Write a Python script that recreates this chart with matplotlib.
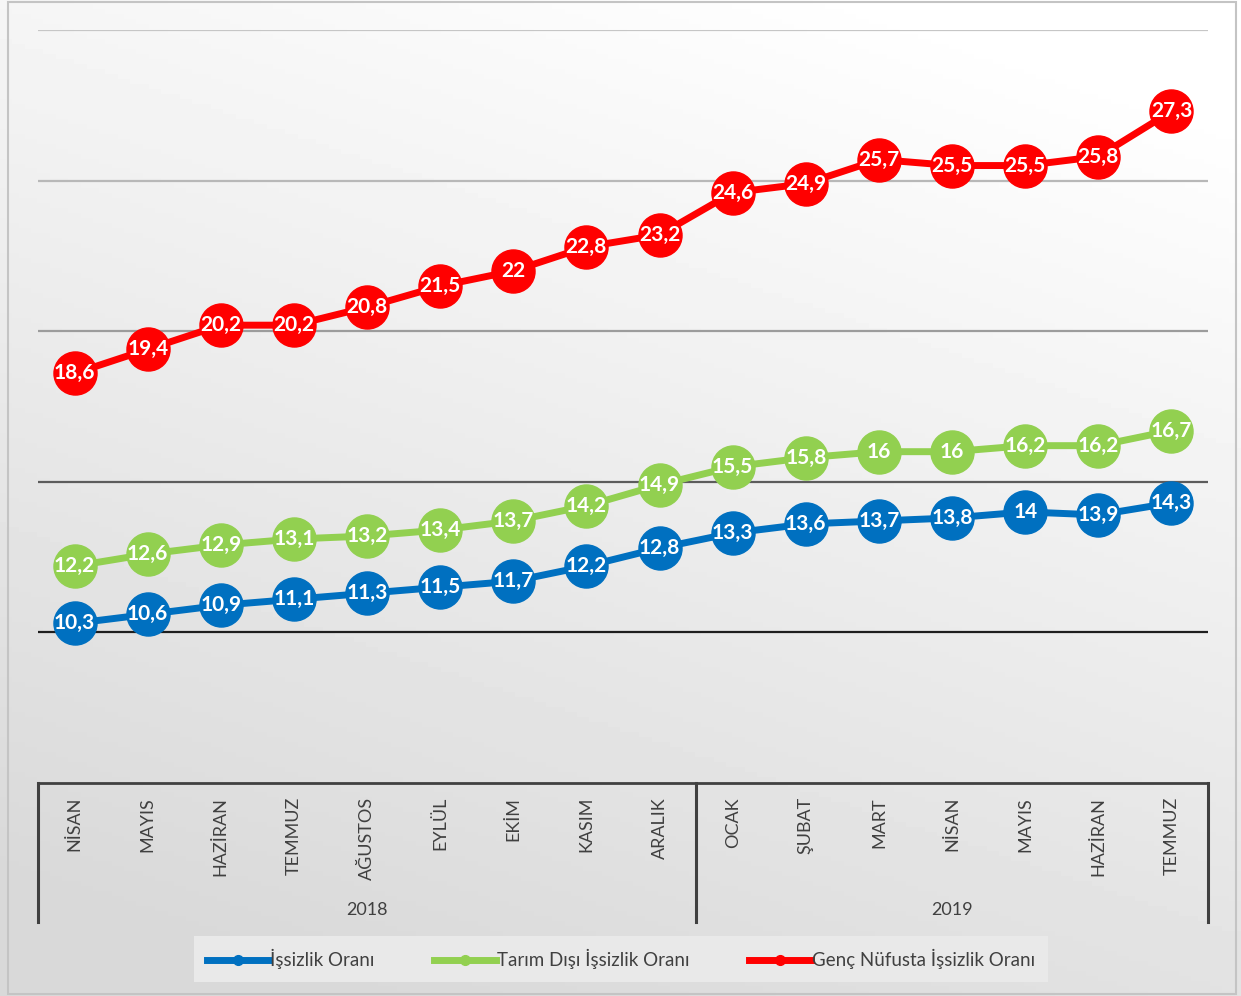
import numpy as np
import matplotlib.pyplot as plt
from matplotlib.lines import Line2D
from matplotlib.patches import Rectangle

plt.rcParams['font.family'] = ['Lato', 'DejaVu Sans']

months = ["NİSAN", "MAYIS", "HAZİRAN", "TEMMUZ", "AĞUSTOS", "EYLÜL", "EKİM", "KASIM", "ARALIK",
          "OCAK", "ŞUBAT", "MART", "NİSAN", "MAYIS", "HAZİRAN", "TEMMUZ"]
years = ["2018", "2019"]
year_counts = [9, 7]

issizlik = [10.3, 10.6, 10.9, 11.1, 11.3, 11.5, 11.7, 12.2, 12.8, 13.3, 13.6, 13.7, 13.8, 14, 13.9, 14.3]
tarim_disi = [12.2, 12.6, 12.9, 13.1, 13.2, 13.4, 13.7, 14.2, 14.9, 15.5, 15.8, 16, 16, 16.2, 16.2, 16.7]
genc = [18.6, 19.4, 20.2, 20.2, 20.8, 21.5, 22, 22.8, 23.2, 24.6, 24.9, 25.7, 25.5, 25.5, 25.8, 27.3]

series_names = ["İşsizlik Oranı", "Tarım Dışı İşsizlik Oranı", "Genç Nüfusta İşsizlik Oranı"]
series_colors = ["#0070c0", "#92d050", "#ff0000"]

W, H = 1241, 996
fig = plt.figure(figsize=(W / 100, H / 100), dpi=100)

# background gradient over the whole figure
bg = fig.add_axes([0, 0, 1, 1], zorder=-10)
yy, xx = np.mgrid[0:1:200j, 0:1:200j]
shade = 0.85 + 0.15 * np.clip(yy * 0.85 + (xx - 0.3) * 0.35, 0, 1)
bg.imshow(shade, cmap='gray', vmin=0, vmax=1, origin='lower', extent=[0, 1, 0, 1], aspect='auto')
bg.add_patch(Rectangle((8 / W, 2 / H), 1228 / W, 992 / H, fill=False, ec='#c4c4c4', lw=1.5))
bg.set_xlim(0, 1)
bg.set_ylim(0, 1)
bg.axis('off')

ax = fig.add_axes([38 / W, (H - 783) / H, 1170 / W, 753 / H])
ax.set_facecolor('none')
x = np.arange(len(months))
ax.set_xlim(-0.5, len(months) - 0.5)
ax.set_ylim(5, 30)
for s in ax.spines.values():
    s.set_visible(False)
ax.set_xticks([])
ax.set_yticks([])

grid_colors = {10: '#1e1e1e', 15: '#5c5c5c', 20: '#9c9c9c', 25: '#b8b8b8', 30: '#c6c6c6'}
for gv, gc in grid_colors.items():
    ax.axhline(gv, color=gc, lw=1.6, zorder=1)


def fmt(v):
    return (f"{v:g}").replace('.', ',')


for vals, col in zip([issizlik, tarim_disi, genc], series_colors):
    ax.plot(x, vals, color=col, lw=5, marker='o', ms=31, mec=col, mfc=col, zorder=3, clip_on=False)
    for xi, v in zip(x, vals):
        ax.text(xi, v, fmt(v), color='white', fontsize=15, fontweight='bold',
                ha='center', va='center', zorder=5)

# multi-level category axis
tr = ax.get_xaxis_transform()
px = 1 / 753
box_bottom = -(922 - 783) * px
ax.plot([-0.5, len(months) - 0.5], [0, 0], transform=tr, color='#404040', lw=2, clip_on=False, zorder=4)
edges = [-0.5]
for c in year_counts:
    edges.append(edges[-1] + c)
for e in edges:
    ax.plot([e, e], [0, box_bottom], transform=tr, color='#404040', lw=2.2, clip_on=False)
for xi, m in zip(x, months):
    ax.text(xi, -(797 - 783) * px, m, transform=tr, rotation=90, ha='center', va='top',
            fontsize=13, color='#404040')
for i, yl in enumerate(years):
    mid = (edges[i] + edges[i + 1]) / 2
    ax.text(mid, -(910 - 783) * px, yl, transform=tr, ha='center', va='center',
            fontsize=13, color='#404040')

handles = [Line2D([], [], color=c, lw=5, marker='o', ms=7, mfc=c, mec=c) for c in series_colors]
leg = fig.legend(handles, series_names, loc='center', bbox_to_anchor=(621 / W, 1 - 959 / H),
                 ncol=3, frameon=True, fancybox=False, fontsize=13.5, handlelength=3.3,
                 handletextpad=0.05, columnspacing=3.2, borderpad=0.7, borderaxespad=0,
                 labelcolor='#404040')
leg.get_frame().set_facecolor('#e9e9e9')
leg.get_frame().set_edgecolor('none')
leg.get_frame().set_alpha(1)

fig.savefig('out.png', dpi=100)
